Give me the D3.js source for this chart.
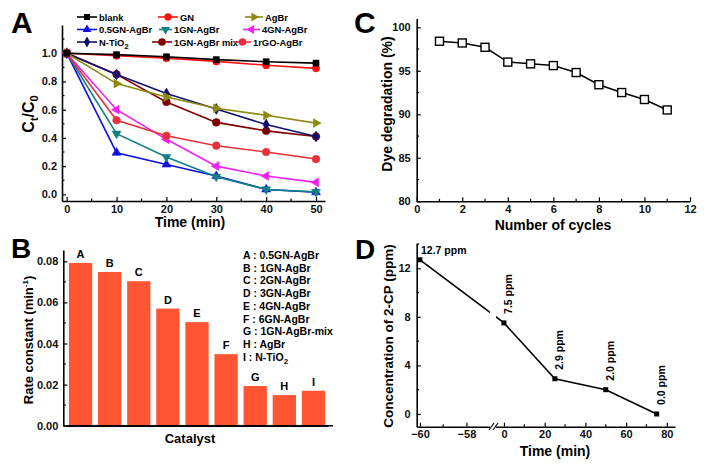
<!DOCTYPE html>
<html><head><meta charset="utf-8">
<script src="https://cdn.jsdelivr.net/npm/d3@7"></script>
<style>
body{margin:0;background:#fff;}
svg{display:block;font-family:"Liberation Sans",Arial,sans-serif;font-weight:bold;}
.axis path,.axis line{stroke:#000;}
.axis path{stroke-width:1.6;}
.axis line{stroke-width:1.2;}
.axis text{font-size:11px;font-weight:bold;fill:#111;font-family:"Liberation Sans",Arial,sans-serif;}
</style></head>
<body>
<svg id="c" width="708" height="469"></svg>
<script>
// ---------- Panel A data ----------
const timeA = [0, 10, 20, 30, 40, 50];
const seriesNamesA = ["blank","GN","AgBr","0.5GN-AgBr","1GN-AgBr","4GN-AgBr","N-TiO2","1GN-AgBr mix","1rGO-AgBr"];
const blank      = [1.0, 0.99, 0.975, 0.955, 0.94, 0.93];
const gn         = [1.0, 0.982, 0.965, 0.942, 0.915, 0.893];
const agbr       = [1.0, 0.785, 0.69, 0.61, 0.56, 0.505];
const gn05agbr   = [1.0, 0.295, 0.212, 0.13, 0.035, 0.015];
const gn1agbr    = [1.0, 0.43, 0.265, 0.125, 0.035, 0.018];
const gn4agbr    = [1.0, 0.60, 0.39, 0.20, 0.13, 0.085];
const ntio2      = [1.0, 0.85, 0.715, 0.605, 0.495, 0.41];
const gn1mix     = [1.0, 0.85, 0.655, 0.51, 0.45, 0.41];
const rgo1agbr   = [1.0, 0.525, 0.415, 0.345, 0.30, 0.25];
const colorsA = ["#000000","#ff1010","#8a8a10","#1010e0","#108080","#f020f0","#10106e","#800000","#e8303a"];
const yTicksA = [0.0, 0.2, 0.4, 0.6, 0.8, 1.0];
const xTicksA = [0, 10, 20, 30, 40, 50];

// ---------- Panel B data ----------
const catB = ["A","B","C","D","E","F","G","H","I"];
const rateB = [0.0792, 0.0748, 0.0703, 0.0570, 0.0504, 0.0348, 0.0193, 0.0149, 0.0170];
const legendB = ["A : 0.5GN-AgBr","B : 1GN-AgBr","C : 2GN-AgBr","D : 3GN-AgBr","E : 4GN-AgBr","F : 6GN-AgBr","G : 1GN-AgBr-mix","H : AgBr","I  : N-TiO"];
const yTicksB = [0.00, 0.02, 0.04, 0.06, 0.08];

// ---------- Panel C data ----------
const cyclesC = [1,2,3,4,5,6,7,8,9,10,11];
const degradC = [98.4, 98.2, 97.7, 96.0, 95.8, 95.6, 94.8, 93.4, 92.5, 91.7, 90.5];
const xTicksC = [0,2,4,6,8,10,12];
const yTicksC = [80,85,90,95,100];

// ---------- Panel D data ----------
const timeD = [-60, 0, 25, 50, 75];
const concD = [12.7, 7.5, 2.9, 2.0, 0.0];
const labelsD = ["12.7 ppm","7.5 ppm","2.9 ppm","2.0 ppm","0.0 ppm"];
const xTicksD = [-60, -58, 0, 20, 40, 60, 80];
const yTicksD = [0, 4, 8, 12];

const svg = d3.select("#c");

function minorTicks(g, scale, vals, orient, len) {
  vals.forEach(v => {
    const p = scale(v);
    if (orient === "x") g.append("line").attr("x1", p).attr("x2", p).attr("y1", 0).attr("y2", -len);
    else g.append("line").attr("y1", p).attr("y2", p).attr("x1", 0).attr("x2", len);
  });
  g.selectAll("line").attr("stroke", "#000").attr("stroke-width", 1.2);
}
function panelLetter(t, x, y, size) {
  svg.append("text").attr("x", x).attr("y", y).attr("font-size", size).attr("font-weight", "bold")
    .attr("font-family", "Liberation Sans, Arial, sans-serif").text(t);
}

// ================= Panel A =================
{
  const x = d3.scaleLinear().domain([-0.94, 51.8]).range([62, 325]);
  const y = d3.scaleLinear().domain([-0.047, 1.2]).range([201, 25]);
  svg.append("g").attr("class", "axis").attr("transform", "translate(0,201)")
    .call(d3.axisBottom(x).tickValues(xTicksA).tickSizeInner(-4).tickSizeOuter(0).tickPadding(4));
  minorTicks(svg.append("g").attr("transform", "translate(0,201)"), x, [5,15,25,35,45], "x", 2.5);
  svg.append("g").attr("class", "axis").attr("transform", "translate(62,0)")
    .call(d3.axisLeft(y).tickValues(yTicksA).tickFormat(d3.format(".1f")).tickSizeInner(-4).tickSizeOuter(0).tickPadding(5));
  minorTicks(svg.append("g").attr("transform", "translate(62,0)"), y, [0.1,0.3,0.5,0.7,0.9,1.1], "y", 2.5);

  const all = [blank, gn, agbr, gn05agbr, gn1agbr, gn4agbr, ntio2, gn1mix, rgo1agbr];
  const symTypes = [d3.symbolSquare, d3.symbolCircle, d3.symbolTriangle, d3.symbolTriangle, d3.symbolTriangle, d3.symbolTriangle, d3.symbolDiamond, d3.symbolCircle, d3.symbolCircle];
  const rots = [0, 0, 90, 0, 180, -90, 0, 0, 0];
  const sizes = [36, 42, 34, 34, 34, 34, 34, 46, 46];
  const line = d3.line().x((d, i) => x(timeA[i])).y(d => y(d));
  const drawOrder = [3, 4, 5, 8, 7, 6, 2, 1, 0];
  drawOrder.forEach(k => {
    const g = svg.append("g");
    g.append("path").attr("d", line(all[k])).attr("fill", "none").attr("stroke", colorsA[k]).attr("stroke-width", 1.6);
    g.selectAll("path.m").data(all[k]).enter().append("path").attr("class", "m")
      .attr("d", d3.symbol().type(symTypes[k]).size(sizes[k]))
      .attr("transform", (d, i) => `translate(${x(timeA[i])},${y(d)}) rotate(${rots[k]})`)
      .attr("fill", colorsA[k]).attr("stroke", colorsA[k]).attr("stroke-width", 0.6);
  });

  // legend
  const legPos = [[77,99],[158,180],[245,265],[77,99],[159,174],[243,262],[77,99],[152,174],[234,253]];
  const legRows = [17, 17, 17, 29.5, 29.5, 29.5, 42, 42, 42];
  seriesNamesA.forEach((name, k) => {
    const [x1, tx] = legPos[k];
    const yy = legRows[k];
    const x2 = tx - 2;
    svg.append("line").attr("x1", x1).attr("x2", x2).attr("y1", yy).attr("y2", yy).attr("stroke", colorsA[k]).attr("stroke-width", 1.6);
    svg.append("path").attr("d", d3.symbol().type(symTypes[k]).size(sizes[k])())
      .attr("transform", `translate(${(x1 + x2) / 2},${yy}) rotate(${rots[k]})`).attr("fill", colorsA[k]);
    const t = svg.append("text").attr("x", tx).attr("y", yy + 3.5).attr("font-size", 9.4).attr("font-weight", "bold");
    if (name === "N-TiO2") { t.text("N-TiO"); t.append("tspan").attr("dy", 3).attr("font-size", 8).text("2"); }
    else t.text(name);
  });

  svg.append("text").attr("x", 190).attr("y", 227).attr("text-anchor", "middle").attr("font-size", 14).text("Time (min)");
  const yt = svg.append("text").attr("transform", "translate(34,114) rotate(-90)").attr("text-anchor", "middle").attr("font-size", 16);
  yt.append("tspan").text("C");
  yt.append("tspan").attr("font-size", 11).attr("dy", 4).text("t");
  yt.append("tspan").attr("dy", -4).text("/C");
  yt.append("tspan").attr("font-size", 11).attr("dy", 4).text("0");
  panelLetter("A", 11, 33, 30);
}

// ================= Panel B =================
{
  const x = d3.scaleBand().domain(catB).range([66, 328]).paddingInner(0.2).paddingOuter(0.1);
  const y = d3.scaleLinear().domain([0, 0.0855]).range([425.7, 250]);
  svg.append("g").selectAll("rect").data(rateB).enter().append("rect")
    .attr("x", (d, i) => x(catB[i])).attr("y", d => y(d)).attr("width", x.bandwidth()).attr("height", d => y(0) - y(d))
    .attr("fill", "#ff5533");
  svg.append("g").selectAll("text").data(rateB).enter().append("text")
    .attr("x", (d, i) => x(catB[i]) + x.bandwidth() / 2).attr("y", d => y(d) - 5)
    .attr("text-anchor", "middle").attr("font-size", 11).text((d, i) => catB[i]);
  svg.append("g").attr("class", "axis").attr("transform", "translate(0,425.7)")
    .call(d3.axisBottom(x).tickValues([]).tickSizeOuter(0));
  svg.append("g").attr("class", "axis").attr("transform", "translate(63.3,0)")
    .call(d3.axisLeft(y).tickValues(yTicksB).tickFormat(d3.format(".2f")).tickSizeInner(-4).tickSizeOuter(0).tickPadding(5));
  minorTicks(svg.append("g").attr("transform", "translate(63.3,0)"), y, [0.01,0.03,0.05,0.07], "y", 2.5);
  svg.append("line").attr("x1", 63.3).attr("x2", 333).attr("y1", 425.7).attr("y2", 425.7).attr("stroke", "#000").attr("stroke-width", 1.6);

  legendB.forEach((s, i) => {
    const t = svg.append("text").attr("x", 243).attr("y", 259 + i * 12.7).attr("font-size", 10.5).text(s);
    if (i === legendB.length - 1) t.append("tspan").attr("dy", 3).attr("font-size", 8).text("2");
  });
  svg.append("text").attr("x", 190).attr("y", 443).attr("text-anchor", "middle").attr("font-size", 13).text("Catalyst");
  const yt = svg.append("text").attr("transform", "translate(33,340) rotate(-90)").attr("text-anchor", "middle").attr("font-size", 13);
  yt.append("tspan").text("Rate constant (min");
  yt.append("tspan").attr("font-size", 8).attr("dy", -5).text("-1");
  yt.append("tspan").attr("dy", 5).text(")");
  panelLetter("B", 11, 258, 28);
}

// ================= Panel C =================
{
  const x = d3.scaleLinear().domain([0, 12]).range([416.7, 690]);
  const y = d3.scaleLinear().domain([80, 101]).range([201.3, 18.6]);
  svg.append("g").attr("class", "axis").attr("transform", "translate(0,201.3)")
    .call(d3.axisBottom(x).tickValues(xTicksC).tickSizeInner(-4).tickSizeOuter(0).tickPadding(4));
  minorTicks(svg.append("g").attr("transform", "translate(0,201.3)"), x, [1,3,5,7,9,11], "x", 2.5);
  svg.append("g").attr("class", "axis").attr("transform", "translate(416.7,0)")
    .call(d3.axisLeft(y).tickValues(yTicksC).tickSizeInner(-4).tickSizeOuter(0).tickPadding(6));
  minorTicks(svg.append("g").attr("transform", "translate(416.7,0)"), y, [82.5,87.5,92.5,97.5], "y", 2.5);
  const line = d3.line().x((d, i) => x(cyclesC[i])).y(d => y(d));
  svg.append("path").attr("d", line(degradC)).attr("fill", "none").attr("stroke", "#000").attr("stroke-width", 1.5);
  svg.append("g").selectAll("rect").data(degradC).enter().append("rect")
    .attr("x", (d, i) => x(cyclesC[i]) - 4).attr("y", d => y(d) - 4).attr("width", 8).attr("height", 8)
    .attr("fill", "#fff").attr("stroke", "#000").attr("stroke-width", 1.4);
  svg.append("text").attr("x", 553).attr("y", 230).attr("text-anchor", "middle").attr("font-size", 14).text("Number of cycles");
  svg.append("text").attr("transform", "translate(392,104) rotate(-90)").attr("text-anchor", "middle").attr("font-size", 14).text("Dye degradation (%)");
  panelLetter("C", 354, 33, 30);
}

// ================= Panel D =================
{
  const x = d3.scaleLinear().domain([-60.14, -56.9, -4.4, 84]).range([416.7, 492, 495, 675]);
  const y = d3.scaleLinear().domain([-1.05, 14.06]).range([426.7, 243.3]);
  svg.append("g").attr("class", "axis").attr("transform", "translate(0,426.7)")
    .call(d3.axisBottom(x).tickValues(xTicksD).tickSizeInner(-4).tickSizeOuter(0).tickPadding(4));
  minorTicks(svg.append("g").attr("transform", "translate(0,426.7)"), x, [-59, 10, 30, 50, 70], "x", 2.5);
  svg.append("g").attr("class", "axis").attr("transform", "translate(416.7,0)")
    .call(d3.axisLeft(y).tickValues(yTicksD).tickSizeInner(-4).tickSizeOuter(0).tickPadding(6));
  minorTicks(svg.append("g").attr("transform", "translate(416.7,0)"), y, [2, 6, 10, 14], "y", 2.5);
  const line = d3.line().x((d, i) => x(timeD[i])).y(d => y(d));
  svg.append("path").attr("d", line(concD)).attr("fill", "none").attr("stroke", "#000").attr("stroke-width", 1.6);
  const bx = x(-56.9);
  svg.append("rect").attr("x", bx - 2).attr("y", 300).attr("width", 6).attr("height", 135).attr("fill", "#fff");
  [bx - 3, bx + 1].forEach(p => svg.append("line").attr("x1", p).attr("x2", p + 5).attr("y1", 430).attr("y2", 423).attr("stroke", "#000").attr("stroke-width", 1.2));
  svg.append("g").selectAll("rect").data(concD).enter().append("rect")
    .attr("x", (d, i) => x(timeD[i]) - 2.5).attr("y", d => y(d) - 2.5).attr("width", 5).attr("height", 5).attr("fill", "#000");
  labelsD.forEach((s, i) => {
    const px = x(timeD[i]), py = y(concD[i]);
    if (i === 0) svg.append("text").attr("x", px + 1).attr("y", py - 6).attr("font-size", 10.5).text(s);
    else svg.append("text").attr("transform", `translate(${px + 8},${py - 9}) rotate(-90)`).attr("font-size", 10.5).text(s);
  });
  svg.append("text").attr("x", 555).attr("y", 456).attr("text-anchor", "middle").attr("font-size", 14).text("Time (min)");
  svg.append("text").attr("transform", "translate(393,336) rotate(-90)").attr("text-anchor", "middle").attr("font-size", 13.5).text("Concentration of 2-CP (ppm)");
  panelLetter("D", 355, 259, 28);
}
</script>
</body></html>
